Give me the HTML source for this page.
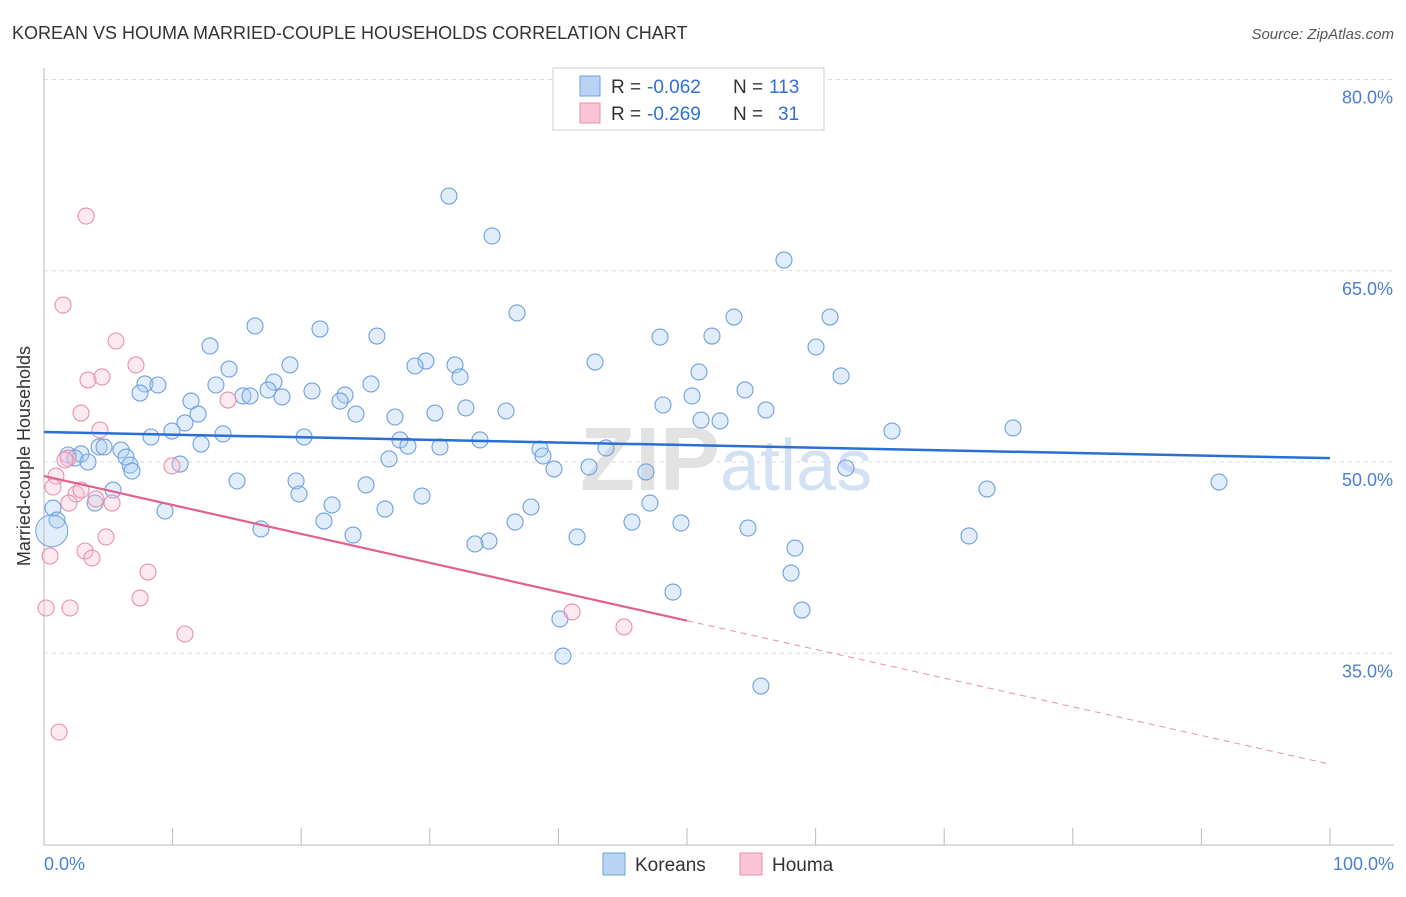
<!DOCTYPE html>
<html><head><meta charset="utf-8"><style>
body{margin:0;background:#fff;font-family:"Liberation Sans",sans-serif}
svg text{font-family:"Liberation Sans",sans-serif}
</style></head><body>
<svg width="1406" height="892" xmlns="http://www.w3.org/2000/svg">
<text x="12" y="39" font-size="18" fill="#333">KOREAN VS HOUMA MARRIED-COUPLE HOUSEHOLDS CORRELATION CHART</text>
<text x="1394" y="39" font-size="15" fill="#555" font-style="italic" text-anchor="end">Source: ZipAtlas.com</text>
<g id="grid"></g>
<text x="720" y="490" font-size="90" fill="#e2e2e2" text-anchor="end" font-family="Liberation Serif" font-weight="bold">ZIP</text>
<text x="720" y="490" font-size="72" fill="#d3e1f5">atlas</text>
<g id="pts"></g>
<g id="lines"></g>
<text x="30" y="456" font-size="18" fill="#333" text-anchor="middle" transform="rotate(-90 30 456)">Married-couple Households</text>
<text x="44" y="870" font-size="18" fill="#4a7fd4">0.0%</text>
<text x="1394" y="870" font-size="18" fill="#4a7fd4" text-anchor="end">100.0%</text>
<g>
<rect x="553" y="68" width="271" height="62" fill="#fff" stroke="#ccc"/>
<rect x="580" y="76" width="20" height="20" fill="#b9d3f5" stroke="#6fa0e0"/>
<rect x="580" y="103" width="20" height="20" fill="#f9c4d4" stroke="#e890aa"/>
<text x="611" y="93" font-size="19" fill="#333">R =</text>
<text x="647" y="93" font-size="19" fill="#2f6fd6">-0.062</text>
<text x="733" y="93" font-size="19" fill="#333">N =</text>
<text x="769" y="93" font-size="19" fill="#2f6fd6">113</text>
<text x="611" y="120" font-size="19" fill="#333">R =</text>
<text x="647" y="120" font-size="19" fill="#2f6fd6">-0.269</text>
<text x="733" y="120" font-size="19" fill="#333">N =</text>
<text x="778" y="120" font-size="19" fill="#2f6fd6">31</text>
</g>
<g>
<rect x="603" y="853" width="22" height="22" fill="#b9d3f5" stroke="#6fa0e0"/>
<text x="635" y="871" font-size="19" fill="#333">Koreans</text>
<rect x="740" y="853" width="22" height="22" fill="#f9c4d4" stroke="#e890aa"/>
<text x="772" y="871" font-size="19" fill="#333">Houma</text>
</g>
</svg>
<script>
const yTicks=[35,50,65,80];
const xTicks=[0,10,20,30,40,50,60,70,80,90,100];
const korPx=[[449,196],[492,236],[784,260],[517,313],[255,326],[320,329],[377,336],[734,317],[830,317],[660,337],[712,336],[210,346],[816,347],[595,362],[426,361],[455,365],[415,366],[290,365],[229,369],[460,377],[699,372],[841,376],[145,384],[158,385],[216,385],[274,382],[268,390],[140,393],[243,396],[250,396],[282,397],[312,391],[345,395],[340,401],[371,384],[745,390],[692,396],[191,401],[663,405],[766,410],[198,414],[356,414],[395,417],[435,413],[466,408],[506,411],[701,420],[720,421],[185,423],[172,431],[151,437],[223,434],[304,437],[400,440],[480,440],[201,444],[408,446],[440,447],[892,431],[1013,428],[606,448],[540,449],[68,455],[81,454],[99,447],[104,447],[121,450],[126,457],[75,458],[88,462],[389,459],[543,456],[130,465],[180,464],[132,471],[554,469],[589,467],[646,472],[846,468],[237,481],[296,481],[366,485],[1219,482],[113,490],[299,494],[422,496],[987,489],[95,503],[650,503],[165,511],[332,505],[385,509],[531,507],[324,521],[515,522],[632,522],[681,523],[261,529],[748,528],[353,535],[577,537],[969,536],[489,541],[475,544],[795,548],[791,573],[673,592],[802,610],[560,619],[563,656],[761,686],[53,508],[57,520]];
const houPx=[[86,216],[63,305],[116,341],[136,365],[88,380],[102,377],[81,413],[100,430],[68,458],[172,466],[228,400],[56,476],[53,487],[76,494],[81,490],[96,499],[112,503],[69,503],[50,556],[85,551],[92,558],[106,537],[148,572],[140,598],[70,608],[46,608],[185,634],[572,612],[624,627],[59,732],[65,460]];
const korX=korPx.map(p=>+((p[0]-44)/12.86).toFixed(2));
const korY=korPx.map(p=>+(50+(462-p[1])/12.75).toFixed(2));
const houX=houPx.map(p=>+((p[0]-44)/12.86).toFixed(2));
const houY=houPx.map(p=>+(50+(462-p[1])/12.75).toFixed(2));
const korTrend=[52.35,50.3];
const houTrend=[48.9,37.55,26.3];
const X=v=>44+v*12.86, Y=v=>462-(v-50)*12.75;
const NS="http://www.w3.org/2000/svg";
function mk(t,a,parent){const e=document.createElementNS(NS,t);for(const k in a)e.setAttribute(k,a[k]);document.getElementById(parent).appendChild(e);return e;}
yTicks.forEach(v=>{
const l=mk('line',{x1:44,x2:1394,y1:Y(v),y2:Y(v),stroke:'#ddd','stroke-dasharray':'4,4'},'grid');


const t=mk('text',{x:1393,y:Y(v)+24,'font-size':18,fill:'#4a7fd4','text-anchor':'end'},'grid');t.textContent=v.toFixed(1)+'%';


});
mk('line',{x1:44,x2:44,y1:68,y2:845,stroke:'#bbb'},'grid');
mk('line',{x1:44,x2:1394,y1:845,y2:845,stroke:'#bbb'},'grid');
xTicks.forEach(v=>{const l=mk('line',{x1:X(v),x2:X(v),y1:828,y2:845,stroke:'#bbb'},'grid');

});
korX.forEach((x,i)=>{const c=mk('circle',{cx:X(x),cy:Y(korY[i]),r:8,fill:'rgba(170,202,242,0.35)',stroke:'#6fa0e0','stroke-width':1.1},'pts');

});
mk('circle',{cx:X(0.6),cy:Y(44.6),r:16,fill:'rgba(170,202,242,0.35)',stroke:'#6fa0e0'},'pts');
houX.forEach((x,i)=>{const c=mk('circle',{cx:X(x),cy:Y(houY[i]),r:8,fill:'rgba(248,195,214,0.35)',stroke:'#e890aa','stroke-width':1.1},'pts');

});
let l1=mk('line',{x1:X(0),y1:Y(korTrend[0]),x2:X(100),y2:Y(korTrend[1]),stroke:'#2a6fd4','stroke-width':2.5},'lines');


let l2=mk('line',{x1:X(0),y1:Y(houTrend[0]),x2:X(50),y2:Y(houTrend[1]),stroke:'#e4608c','stroke-width':2.2},'lines');


let l3=mk('line',{x1:X(50),y1:Y(houTrend[1]),x2:X(100),y2:Y(houTrend[2]),stroke:'#e890aa','stroke-width':1,'stroke-dasharray':'6,5'},'lines');


</script>
</body></html>
